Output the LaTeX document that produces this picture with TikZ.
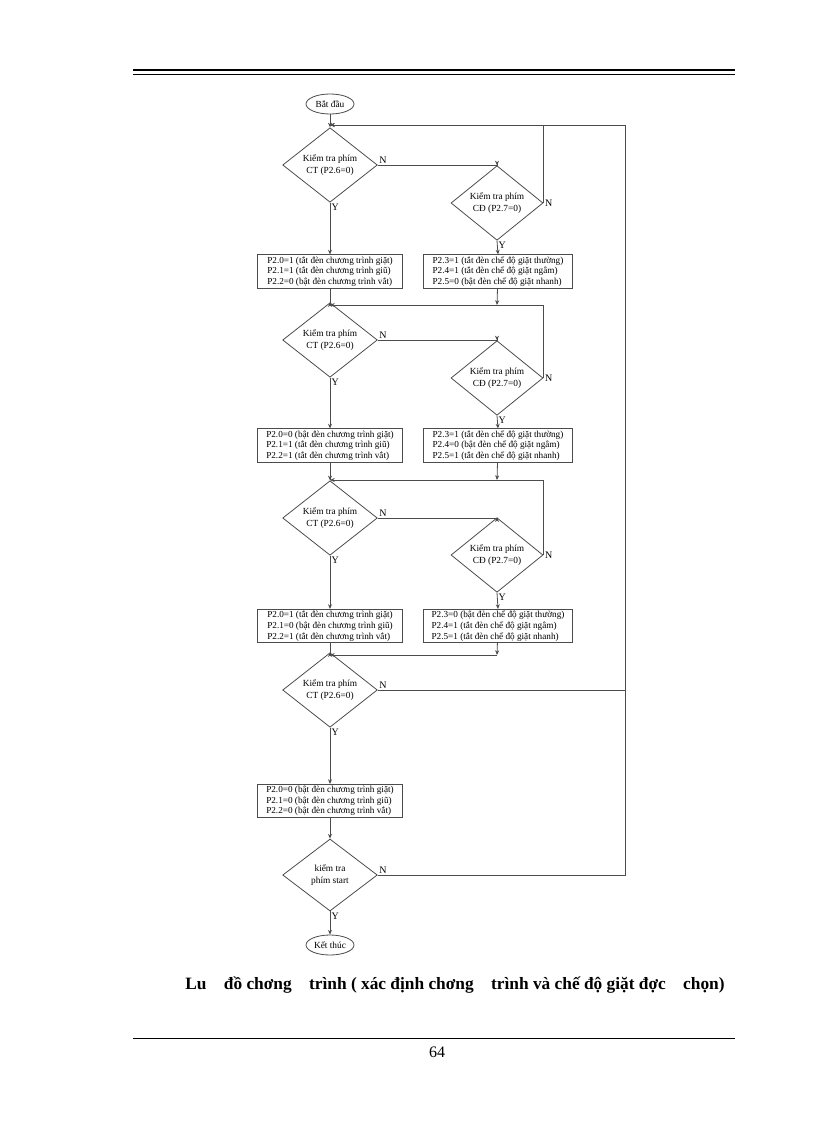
\documentclass[tikz,border=0pt]{standalone}
\usepackage{fontspec}
\setmainfont{Liberation Serif}
\usetikzlibrary{shapes.geometric,arrows.meta}
\begin{document}
\begin{tikzpicture}[x=0.75pt,y=-0.75pt,
 ln/.style={draw=black!70,line width=0.6pt},
 ar/.style={ln,-{Stealth[length=3.5pt,width=3pt]}},
 ct/.style={diamond,ln,minimum width=71pt,minimum height=52pt,inner sep=0pt,font=\fontsize{7}{8.5}\selectfont,align=center},
 cd/.style={diamond,ln,minimum width=69pt,minimum height=44pt,inner sep=0pt,font=\fontsize{7}{8.5}\selectfont,align=center},
 bx/.style={rectangle,ln,minimum width=109pt,minimum height=25pt,inner sep=1pt,font=\fontsize{6.9}{8}\selectfont,align=left},
 bxr/.style={bx,minimum width=112pt},
 term/.style={ellipse,ln,minimum width=36pt,minimum height=15pt,inner sep=0pt,font=\fontsize{7}{8}\selectfont},
 lb/.style={font=\fontsize{7.5}{8}\selectfont,inner sep=1pt}]
\useasboundingbox (0,0) rectangle (816,1123);
\draw[black,line width=1.2pt] (133,70) -- (735,70);
\draw[black,line width=0.6pt] (133,74) -- (735,74);

\node[term] (start) at (330,104) {Bắt đầu};
\coordinate (m1) at (330,125);
\coordinate (m2) at (330,305);
\coordinate (m3) at (330,480);
\coordinate (m4) at (330,655);
\coordinate (r1) at (497,305);
\coordinate (r2) at (497,480);
\coordinate (r3) at (497,655);
\coordinate (o1) at (625,125);
\coordinate (o2) at (625,875);
\coordinate (o3) at (625,690);

% stage 1
\node[ct] (d1) at (330,165) {Kiểm tra phím\\CT (P2.6=0)};
\node[cd] (d2) at (497,203) {Kiểm tra phím\\CĐ (P2.7=0)};
\node[bx] (b1) at (330,271.5) {P2.0=1 (tắt đèn chương trình giặt)\\P2.1=1 (tắt đèn chương trình giũ)\\P2.2=0 (bật đèn chương trình vắt)};
\node[bxr] (b2) at (498,271.5) {P2.3=1 (tắt đèn chế độ giặt thường)\\P2.4=1 (tắt đèn chế độ giặt ngâm)\\P2.5=0 (bật đèn chế độ giặt nhanh)};
% stage 2
\node[ct] (d3) at (330,340) {Kiểm tra phím\\CT (P2.6=0)};
\node[cd] (d4) at (497,378) {Kiểm tra phím\\CĐ (P2.7=0)};
\node[bx] (b3) at (330,445.5) {P2.0=0 (bật đèn chương trình giặt)\\P2.1=1 (tắt đèn chương trình giũ)\\P2.2=1 (tắt đèn chương trình vắt)};
\node[bxr] (b4) at (498,445.5) {P2.3=1 (tắt đèn chế độ giặt thường)\\P2.4=0 (bật đèn chế độ giặt ngâm)\\P2.5=1 (tắt đèn chế độ giặt nhanh)};
% stage 3
\node[ct] (d5) at (330,518) {Kiểm tra phím\\CT (P2.6=0)};
\node[cd] (d6) at (497,555) {Kiểm tra phím\\CĐ (P2.7=0)};
\node[bx] (b5) at (330,626) {P2.0=1 (tắt đèn chương trình giặt)\\P2.1=0 (bật đèn chương trình giũ)\\P2.2=1 (tắt đèn chương trình vắt)};
\node[bxr] (b6) at (498,626) {P2.3=0 (bật đèn chế độ giặt thường)\\P2.4=1 (tắt đèn chế độ giặt ngâm)\\P2.5=1 (tắt đèn chế độ giặt nhanh)};
% stage 4
\node[ct] (d7) at (330,690) {Kiểm tra phím\\CT (P2.6=0)};
\node[bx] (b7) at (330,801) {P2.0=0 (bật đèn chương trình giặt)\\P2.1=0 (bật đèn chương trình giũ)\\P2.2=0 (bật đèn chương trình vắt)};
\node[ct,minimum height=54pt] (d8) at (330,875) {kiểm tra\\phím start};
\node[term] (end) at (330,945) {Kết thúc};

\draw[ln] (start) -- (m1);
\draw[ar] (m1) -- (d1.north);
\draw[ar] (m2) -- (d3.north);
\draw[ar] (m3) -- (d5.north);
\draw[ar] (m4) -- (d7.north);
\draw[ln] (b1) -- (m2);
\draw[ln] (b3) -- (m3);
\draw[ln] (b5) -- (m4);
\draw[ar] (b2) -- (r1);
\draw[ar] (b4) -- (r2);
\draw[ar] (b6) -- (r3);
\draw[ar] (r3) -- (m4);
\foreach \a/\b/\c/\d/\m in {d1/d2/b1/b2/m1,d3/d4/b3/b4/m2,d5/d6/b5/b6/m3}{
  \draw[ar] (\a.east) -| (\b.north);
  \node[lb,anchor=south west] at (\a.east) {N};
  \draw[ar] (\b.east) |- (\m);
  \node[lb,anchor=west] at (\b.east) {N};
  \draw[ar] (\a.south) -- (\c.north);
  \node[lb,anchor=north west] at (\a.south) {Y};
  \draw[ar] (\b.south) -- (\d.north);
  \node[lb,anchor=north west] at (\b.south) {Y};
}
\draw[ln] (d7.east) -- (o3);
\node[lb,anchor=south west] at (d7.east) {N};
\draw[ar] (d7.south) -- (b7.north);
\node[lb,anchor=north west] at (d7.south) {Y};
\draw[ar] (b7.south) -- (d8.north);
\draw[ar] (d8.east) -- (o2) -- (o1) -- (m1);
\node[lb,anchor=south west] at (d8.east) {N};
\draw[ar] (d8.south) -- (end.north);
\node[lb,anchor=north west] at (d8.south) {Y};

\node[font=\bfseries\fontsize{13}{15}\selectfont] (cap) at (455,985) {Lu\quad đồ chơng\quad trình ( xác định chơng\quad trình và chế độ giặt đợc\quad chọn)};
\draw[black,line width=0.6pt] (133,1038) -- (735,1038);
\node[font=\fontsize{12}{14}\selectfont] (pg) at (437,1052) {64};
\end{tikzpicture}
\end{document}
